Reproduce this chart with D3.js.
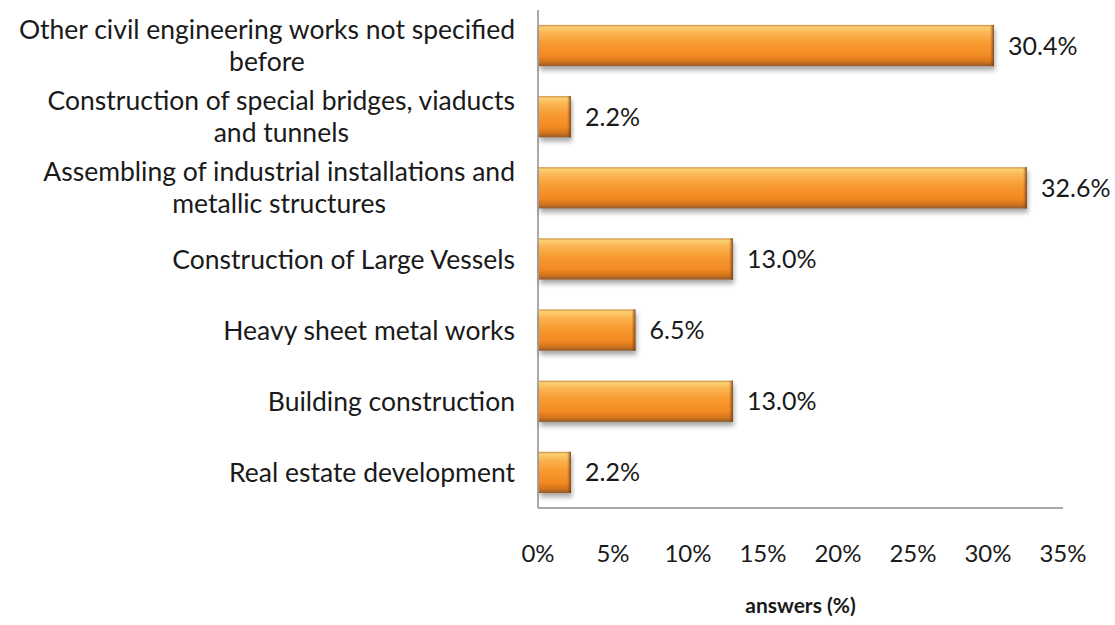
<!DOCTYPE html>
<html>
<head>
<meta charset="utf-8">
<script src="https://cdn.jsdelivr.net/npm/d3@7/dist/d3.min.js"></script>
<style>
  html, body { margin: 0; padding: 0; background: #ffffff; }
  svg { display: block; }
  text { font-family: Lato, "Open Sans", sans-serif; fill: #1a1a1a; }
</style>
</head>
<body>
<svg id="chart" width="1115" height="625"></svg>
<script>
// Survey answers by activity sector
const categories = [
  ["Other civil engineering works not specified", "before"],
  ["Construction of special bridges, viaducts", "and tunnels"],
  ["Assembling of industrial installations and", "metallic structures"],
  ["Construction of Large Vessels"],
  ["Heavy sheet metal works"],
  ["Building construction"],
  ["Real estate development"]
];
const values = [30.4, 2.2, 32.6, 13.0, 6.5, 13.0, 2.2];
const tickValues = [0, 5, 10, 15, 20, 25, 30, 35];
const axisTitle = "answers (%)";

const svg = d3.select("#chart");
const margin = { left: 538, right: 52, top: 10, bottom: 117 };
const W = 1115, H = 625;

const x = d3.scaleLinear().domain([0, 35]).range([margin.left, W - margin.right]);
const y = d3.scaleBand()
  .domain(d3.range(categories.length))
  .range([margin.top, H - margin.bottom])
  .paddingInner(0.42)
  .paddingOuter(0.21);

// bar shading
const defs = svg.append("defs");
const grad = defs.append("linearGradient")
  .attr("id", "barGrad").attr("x1", 0).attr("y1", 0).attr("x2", 0).attr("y2", 1);
[
  [0, "#c98a3a"], [0.05, "#fcd074"], [0.18, "#fbb654"], [0.45, "#f89a30"],
  [0.75, "#f28a22"], [0.9, "#d2731c"], [1, "#8f5a2e"]
].forEach(([o, c]) => grad.append("stop").attr("offset", o).attr("stop-color", c));

const edge = defs.append("linearGradient")
  .attr("id", "edgeGrad").attr("x1", 0).attr("y1", 0).attr("x2", 1).attr("y2", 0);
[[0, "rgba(140,80,30,0)"], [1, "rgba(110,60,20,0.85)"]]
  .forEach(([o, c]) => edge.append("stop").attr("offset", o).attr("stop-color", c));

const shadow = defs.append("filter").attr("id", "shadow")
  .attr("x", "-5%").attr("y", "-20%").attr("width", "115%").attr("height", "160%");
shadow.append("feGaussianBlur").attr("in", "SourceAlpha").attr("stdDeviation", 2.5).attr("result", "b");
shadow.append("feOffset").attr("in", "b").attr("dx", 1).attr("dy", 4).attr("result", "o");
shadow.append("feComponentTransfer").attr("in", "o").attr("result", "s")
  .append("feFuncA").attr("type", "linear").attr("slope", 0.35);
const merge = shadow.append("feMerge");
merge.append("feMergeNode").attr("in", "s");
merge.append("feMergeNode").attr("in", "SourceGraphic");

// axes lines
svg.append("line")
  .attr("x1", x(0)).attr("x2", x(0))
  .attr("y1", margin.top).attr("y2", H - margin.bottom)
  .attr("stroke", "#8c8c8c").attr("stroke-width", 1.5);
svg.append("line")
  .attr("x1", x(0)).attr("x2", x(35))
  .attr("y1", H - margin.bottom).attr("y2", H - margin.bottom)
  .attr("stroke", "#8c8c8c").attr("stroke-width", 1.5);

// bars
const bars = svg.append("g").selectAll("g.bar")
  .data(values).join("g").attr("class", "bar").attr("filter", "url(#shadow)");
bars.append("rect")
  .attr("x", x(0) + 1)
  .attr("y", (d, i) => y(i))
  .attr("width", d => x(d) - x(0) - 1)
  .attr("height", y.bandwidth())
  .attr("fill", "url(#barGrad)");
bars.append("rect")
  .attr("x", d => x(d) - 4)
  .attr("y", (d, i) => y(i))
  .attr("width", 4)
  .attr("height", y.bandwidth())
  .attr("fill", "url(#edgeGrad)");

// value labels
svg.append("g").selectAll("text")
  .data(values).join("text")
  .attr("x", d => x(d) + 14)
  .attr("y", (d, i) => y(i) + y.bandwidth() / 2)
  .attr("dy", "0.36em")
  .attr("font-size", 25)
  .text(d => d.toFixed(1) + "%");

// category labels: block right-aligned, lines centred within the block
const labelRight = 515;
const lineH = 32;
const catG = svg.append("g");
categories.forEach((lines, i) => {
  const cy = y(i) + y.bandwidth() / 2;
  const t = catG.append("text").attr("font-size", 26.5).attr("text-anchor", "middle");
  const spans = lines.map((ln, k) => t.append("tspan")
    .attr("y", cy + (k - (lines.length - 1) / 2) * lineH)
    .attr("dy", "0.36em")
    .text(ln));
  const maxW = d3.max(spans, s => s.node().getComputedTextLength());
  spans.forEach(s => s.attr("x", labelRight - maxW / 2));
});

// tick labels
svg.append("g").selectAll("text")
  .data(tickValues).join("text")
  .attr("x", d => x(d))
  .attr("y", 553)
  .attr("dy", "0.36em")
  .attr("text-anchor", "middle")
  .attr("font-size", 24)
  .text(d => d + "%");

svg.append("text")
  .attr("x", (x(0) + x(35)) / 2)
  .attr("y", 605)
  .attr("dy", "0.36em")
  .attr("text-anchor", "middle")
  .attr("font-size", 21)
  .attr("font-weight", "bold")
  .text(axisTitle);
</script>
</body>
</html>
